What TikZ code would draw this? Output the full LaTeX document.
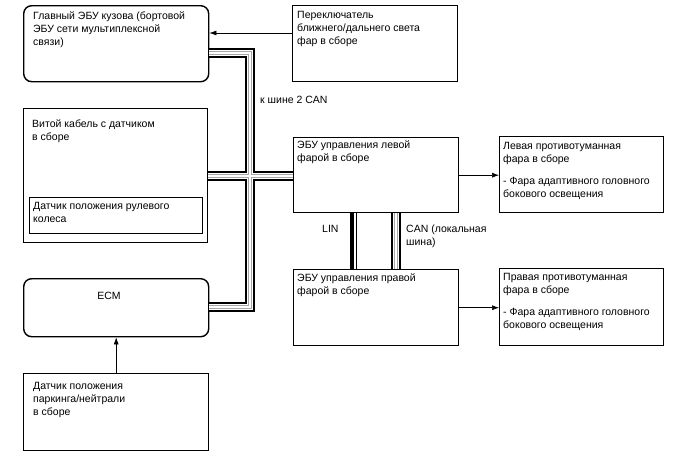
\documentclass[tikz,border=0pt]{standalone}
\usepackage{fontspec}
\setmainfont{Liberation Sans}
\usetikzlibrary{arrows.meta}
\begin{document}
\begin{tikzpicture}[x=1pt,y=-1pt,
  box/.style={draw,line width=1.4pt,anchor=north west,inner sep=0,minimum width=#1},
  box/.default=165pt,
  rbox/.style={box=#1,rounded corners=8pt},
  txt/.style={anchor=north west,inner sep=0,align=left,font=\fontsize{10.5}{13}\selectfont},
  lbl/.style={inner sep=0,align=left,font=\fontsize{10.5}{13}\selectfont},
  arr/.style={-{Latex[length=7pt,width=5pt]},line width=0.6pt},
  ]
\useasboundingbox[fill=white] (0,0) rectangle (688,463);

% boxes
\node[rbox=185pt,minimum height=76pt] (main) at (23,5) {};
\node[box=165pt,minimum height=76pt] (sw) at (292,5) {};
\node[box=184pt,minimum height=134pt] (spiral) at (23,108) {};
\node[box=173pt,minimum height=36pt] (sas) at (29,197) {};
\node[rbox=185pt,minimum height=58pt] (ecm) at (23,278) {};
\node[box=185pt,minimum height=77pt] (pn) at (23,373) {};
\node[box=165pt,minimum height=75pt] (lecu) at (293,137) {};
\node[box=165pt,minimum height=76pt] (recu) at (293,269) {};
\node[box=164pt,minimum height=76pt] (lfog) at (499,136) {};
\node[box=164pt,minimum height=77pt] (rfog) at (499,268) {};

% texts
\node[txt] (maint) at (33,11.5) {Главный ЭБУ кузова (бортовой\\ЭБУ сети мультиплексной\\связи)};
\node[txt] (swt) at (297,11.5) {Переключатель\\ближнего/дальнего света\\фар в сборе};
\node[txt] (spiralt) at (32,119.5) {Витой кабель с датчиком\\в сборе};
\node[txt] (sast) at (33,202.5) {Датчик положения рулевого\\колеса};
\node[lbl] (ecmt) at (109,296) {ECM};
\node[txt] (pnt) at (33,382) {Датчик положения\\паркинга/нейтрали\\в сборе};
\node[txt] (lecut) at (297,140.5) {ЭБУ управления левой\\фарой в сборе};
\node[txt] (recut) at (297,273.5) {ЭБУ управления правой\\фарой в сборе};
\node[txt] (lfogt) at (503,142) {Левая противотуманная\\фара в сборе\\[9pt]- Фара адаптивного головного\\бокового освещения};
\node[txt] (rfogt) at (503,273.5) {Правая противотуманная\\фара в сборе\\[9pt]- Фара адаптивного головного\\бокового освещения};

% labels
\node[lbl,anchor=west] (can2) at (260,100) {к шине 2 CAN};
\node[lbl,anchor=west] (linl) at (322,229) {LIN};
\node[lbl,anchor=north west] (canl) at (406,224.5) {CAN (локальная\\шина)};

% bus coordinates
\coordinate (tx) at (250,0);
\coordinate (ytop) at (0,53);
\coordinate (ymid) at (0,176);
\coordinate (ybot) at (0,307);
\coordinate (canx) at (396,0);
\coordinate (lin1) at (352,0);
\coordinate (lin2) at (356.5,0);

\foreach \w/\c in {9.5/black,6/white,3.8/gray!70,1.4/white}{
  \draw[line width=\w pt,\c]
    (main.east |- ytop) -- (tx |- ytop) -- (tx |- ybot) -- (ecm.east |- ybot)
    (spiral.east |- ymid) -- (lecu.west |- ymid)
    (lecu.south -| canx) -- (recu.north -| canx);
}
\draw[line width=3.5pt] (lecu.south -| lin1) -- (recu.north -| lin1);
\draw[line width=1pt] (lecu.south -| lin2) -- (recu.north -| lin2);

% arrows
\coordinate (a1) at (0,33);
\draw[arr] (sw.west |- a1) -- (main.east |- a1);
\draw[arr] (pn.north) -- (ecm.south);
\draw[arr] (lecu.east) -- (lecu.east -| lfog.west);
\draw[arr] (recu.east) -- (recu.east -| rfog.west);
\end{tikzpicture}
\end{document}
